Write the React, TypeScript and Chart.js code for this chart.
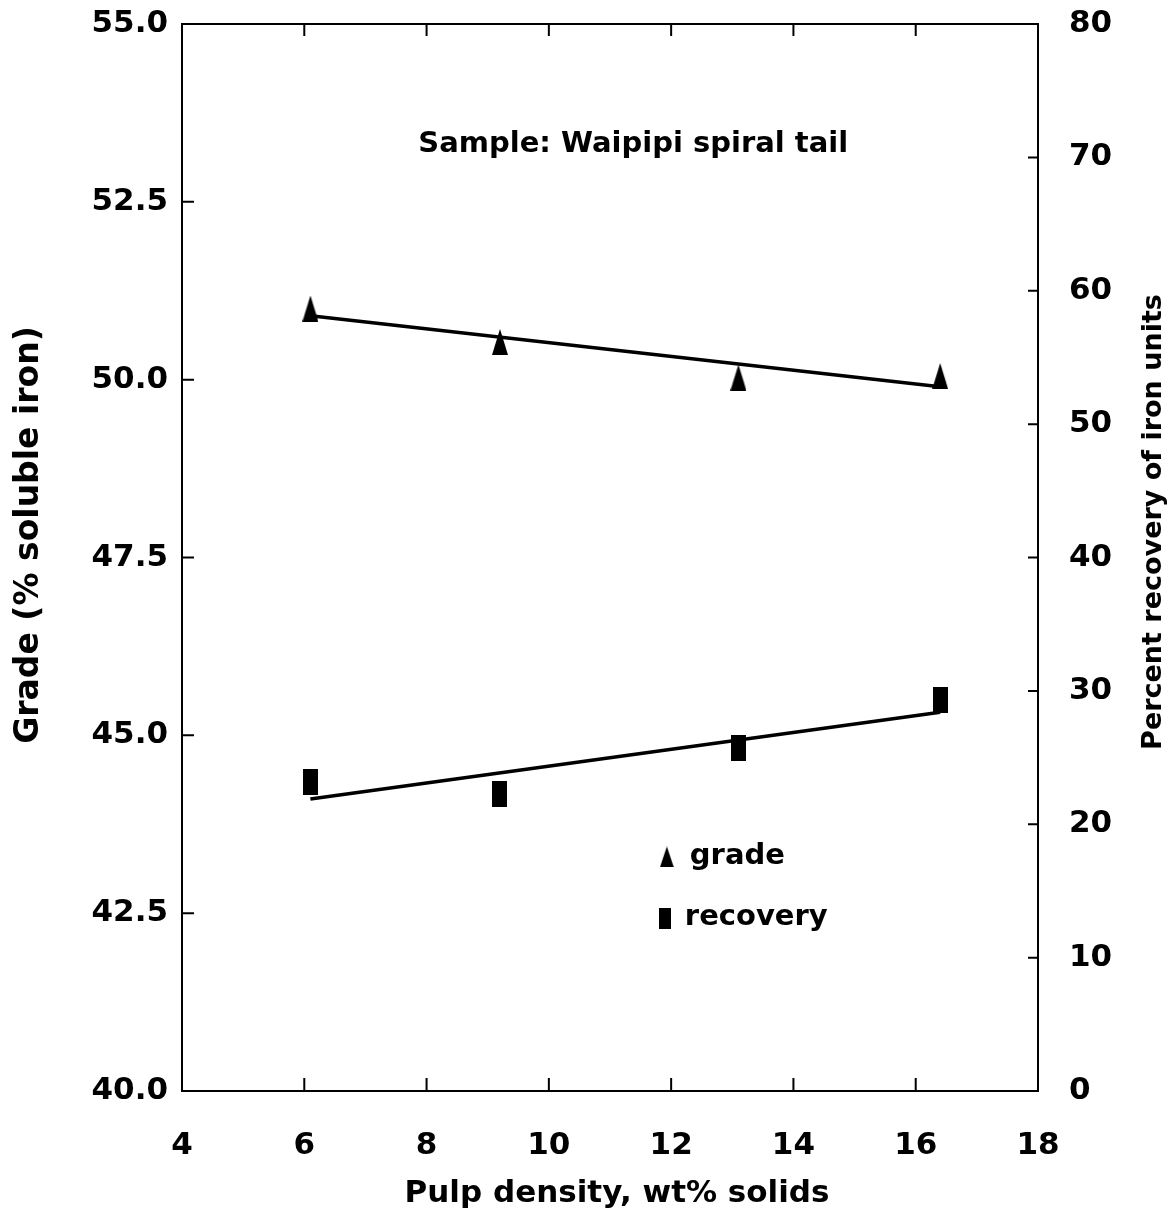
import { useEffect, useRef } from "react";
import { Chart, registerables } from "chart.js";

Chart.register(...registerables);

// ---- data ----
const pulpDensity = [6.1, 9.2, 13.1, 16.4];
const gradeValues = [51.0, 50.53, 50.03, 50.05];
const recoveryValues = [23.2, 22.3, 25.7, 29.3];
const fitDensity = [6.1, 16.4];
const gradeFit = [50.9, 49.9];
const recoveryFit = [21.9, 28.4];

const xTickValues = [4, 6, 8, 10, 12, 14, 16, 18];
const gradeTickValues = [40, 42.5, 45, 47.5, 50, 52.5, 55];
const recoveryTickValues = [0, 10, 20, 30, 40, 50, 60, 70, 80];

const titleText = "Sample: Waipipi spiral tail";
const xTitle = "Pulp density, wt% solids";
const yTitle = "Grade (% soluble iron)";
const y1Title = "Percent recovery of iron units";
const legendLabels = ["grade", "recovery"];

const FONT = '"DejaVu Sans", sans-serif';

function makeTriangle(w: number, h: number) {
  const c = document.createElement("canvas");
  c.width = w;
  c.height = h;
  const g = c.getContext("2d")!;
  g.fillStyle = "#000";
  g.beginPath();
  g.moveTo(w / 2, 0);
  g.lineTo(w, h);
  g.lineTo(0, h);
  g.closePath();
  g.fill();
  return c;
}

function makeRect(w: number, h: number) {
  const c = document.createElement("canvas");
  c.width = w;
  c.height = h;
  const g = c.getContext("2d")!;
  g.fillStyle = "#000";
  g.fillRect(0, 0, w, h);
  return c;
}

export default function App() {
  const ref = useRef<HTMLCanvasElement | null>(null);

  useEffect(() => {
    if (!ref.current) return;
    const tri = makeTriangle(16, 26);
    const rect = makeRect(15, 26);
    const triLegend = makeTriangle(14, 21);
    const rectLegend = makeRect(12, 21);

    const decor = {
      id: "decor",
      afterDraw(chart: any) {
        const { ctx, chartArea: a, scales } = chart;
        ctx.save();
        ctx.strokeStyle = "#000";
        ctx.lineWidth = 2;
        ctx.strokeRect(a.left, a.top, a.right - a.left, a.bottom - a.top);
        ctx.beginPath();
        scales.y.ticks.forEach((t: any) => {
          const p = scales.y.getPixelForValue(t.value);
          ctx.moveTo(a.left, p);
          ctx.lineTo(a.left + 12, p);
        });
        scales.y1.ticks.forEach((t: any) => {
          const p = scales.y1.getPixelForValue(t.value);
          ctx.moveTo(a.right, p);
          ctx.lineTo(a.right - 10, p);
        });
        scales.x.ticks.forEach((t: any) => {
          const p = scales.x.getPixelForValue(t.value);
          ctx.moveTo(p, a.bottom);
          ctx.lineTo(p, a.bottom - 13);
          ctx.moveTo(p, a.top);
          ctx.lineTo(p, a.top + 12);
        });
        ctx.stroke();

        ctx.fillStyle = "#000";
        // inner title
        ctx.font = `bold 29px ${FONT}`;
        ctx.textAlign = "center";
        ctx.textBaseline = "middle";
        ctx.fillText(titleText, scales.x.getPixelForValue(11.38), scales.y.getPixelForValue(53.3));

        // legend
        const lx = scales.x.getPixelForValue(11.93);
        const ly1 = scales.y.getPixelForValue(43.29);
        const ly2 = scales.y.getPixelForValue(42.43);
        ctx.drawImage(triLegend, lx - triLegend.width / 2, ly1 - triLegend.height / 2);
        ctx.drawImage(rectLegend, lx - 2 - rectLegend.width / 2, ly2 - rectLegend.height / 2);
        ctx.font = `bold 29px ${FONT}`;
        ctx.textAlign = "left";
        ctx.fillText(legendLabels[0], lx + 23, ly1 - 1);
        ctx.fillText(legendLabels[1], lx + 18, ly2 - 1);

        // axis titles
        ctx.textAlign = "center";
        ctx.font = `bold 31px ${FONT}`;
        ctx.fillText(xTitle, (a.left + a.right) / 2 + 7, 1186);
        ctx.save();
        ctx.font = `bold 33px ${FONT}`;
        ctx.translate(21, 527);
        ctx.rotate(-Math.PI / 2);
        ctx.fillText(yTitle, 0, 0);
        ctx.restore();
        ctx.save();
        ctx.font = `bold 27px ${FONT}`;
        ctx.translate(1146, 514);
        ctx.rotate(-Math.PI / 2);
        ctx.fillText(y1Title, 0, 0);
        ctx.restore();
        ctx.restore();
      },
    };

    const tickFont = { family: FONT, size: 31, weight: "bold" as const };

    const chart = new Chart(ref.current, {
      type: "scatter",
      data: {
        datasets: [
          {
            label: "grade",
            data: pulpDensity.map((x, i) => ({ x, y: gradeValues[i] })),
            yAxisID: "y",
            pointStyle: tri as any,
            pointRadius: 12,
            backgroundColor: "#000",
            borderColor: "#000",
            showLine: false,
            order: 0,
          },
          {
            label: "grade fit",
            data: fitDensity.map((x, i) => ({ x, y: gradeFit[i] })),
            yAxisID: "y",
            showLine: true,
            pointRadius: 0,
            borderColor: "#000",
            borderWidth: 3.5,
            order: 1,
          },
          {
            label: "recovery",
            data: pulpDensity.map((x, i) => ({ x, y: recoveryValues[i] })),
            yAxisID: "y1",
            pointStyle: rect as any,
            pointRadius: 12,
            backgroundColor: "#000",
            borderColor: "#000",
            showLine: false,
            order: 0,
          },
          {
            label: "recovery fit",
            data: fitDensity.map((x, i) => ({ x, y: recoveryFit[i] })),
            yAxisID: "y1",
            showLine: true,
            pointRadius: 0,
            borderColor: "#000",
            borderWidth: 3.5,
            order: 1,
          },
        ],
      },
      options: {
        animation: false,
        responsive: true,
        maintainAspectRatio: false,
        layout: { padding: { top: 16, left: 0, right: 0, bottom: 0 } },
        plugins: { legend: { display: false }, tooltip: { enabled: false } },
        scales: {
          x: {
            type: "linear",
            min: 4,
            max: 18,
            grid: { display: false },
            border: { display: false },
            afterBuildTicks: (s: any) => {
              s.ticks = xTickValues.map((v) => ({ value: v }));
            },
            afterFit: (s: any) => {
              s.height = 123;
              s.paddingLeft = 0;
              s.paddingRight = 0;
            },
            ticks: { font: tickFont, color: "#000", padding: 28, callback: (v: any) => String(v) },
          },
          y: {
            type: "linear",
            position: "left",
            min: 40,
            max: 55,
            grid: { display: false },
            border: { display: false },
            afterBuildTicks: (s: any) => {
              s.ticks = gradeTickValues.map((v) => ({ value: v }));
            },
            afterFit: (s: any) => {
              s.width = 174;
              s.paddingTop = 0;
              s.paddingBottom = 0;
            },
            ticks: { font: tickFont, color: "#000", padding: 6, callback: (v: any) => Number(v).toFixed(1) },
          },
          y1: {
            type: "linear",
            position: "right",
            min: 0,
            max: 80,
            grid: { display: false },
            border: { display: false },
            afterBuildTicks: (s: any) => {
              s.ticks = recoveryTickValues.map((v) => ({ value: v }));
            },
            afterFit: (s: any) => {
              s.width = 129;
              s.paddingTop = 0;
              s.paddingBottom = 0;
            },
            ticks: { font: tickFont, color: "#000", padding: 23, callback: (v: any) => String(v) },
          },
        },
      },
      plugins: [decor],
    });
    return () => chart.destroy();
  }, []);

  return (
    <div style={{ width: 1159, height: 1206, position: "relative", background: "#fff" }}>
      <canvas ref={ref} />
    </div>
  );
}
